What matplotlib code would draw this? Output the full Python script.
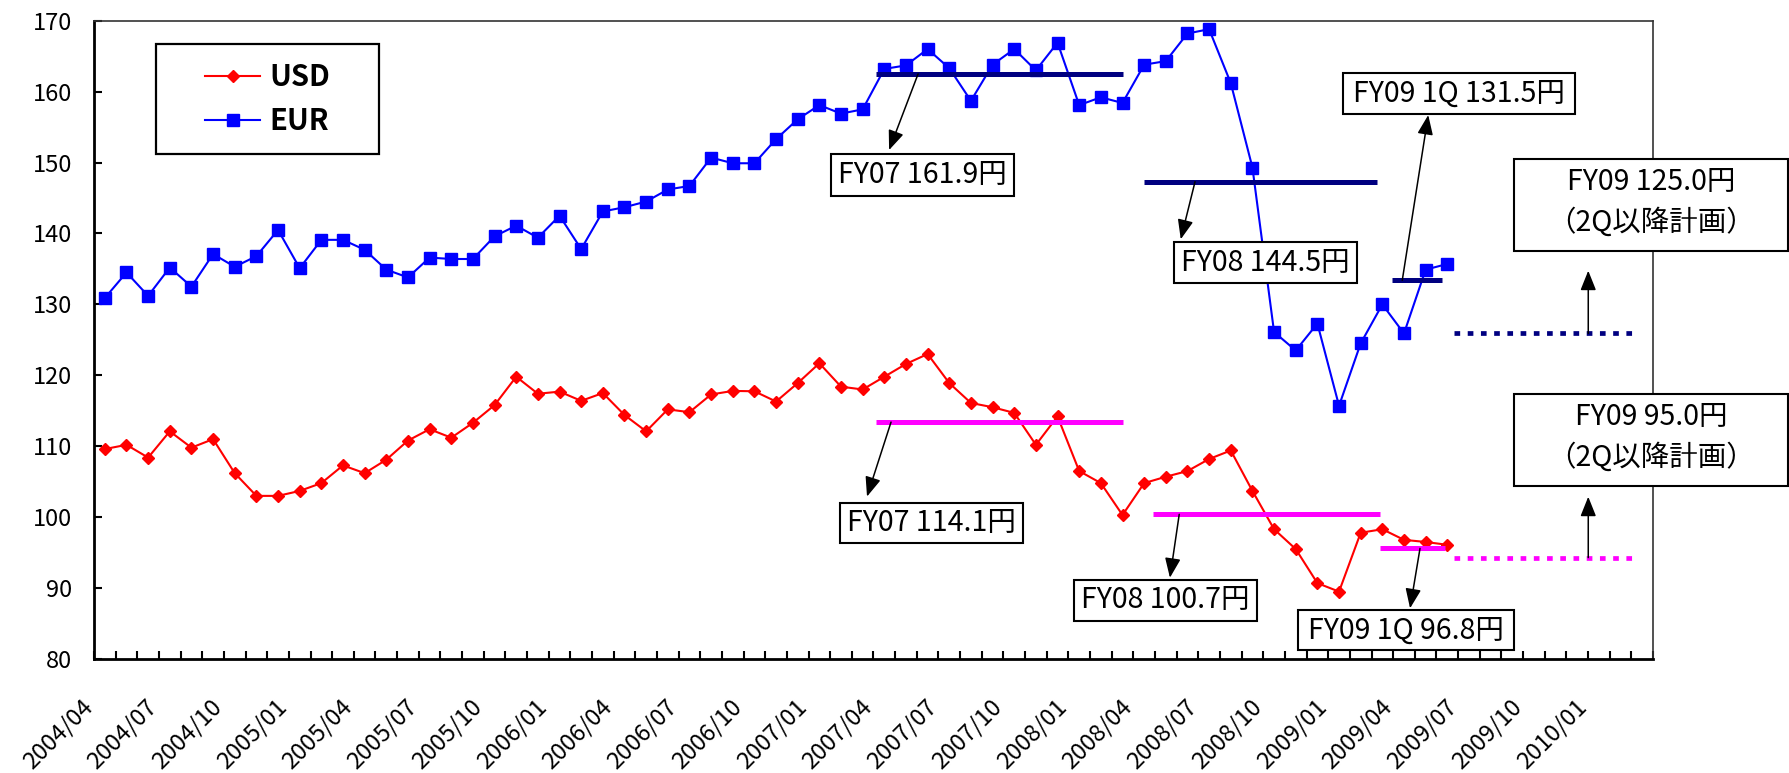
import numpy as np
import matplotlib
matplotlib.use('Agg')
import matplotlib.pyplot as plt
from matplotlib.patches import Rectangle
from matplotlib.transforms import ScaledTranslation

plt.rcParams['font.family'] = ['Noto Sans CJK JP', 'DejaVu Sans']

# monthly rates, 2004/04 - 2009/06
usd = [109.6, 110.2, 108.4, 112.1, 109.8, 111.0, 106.2, 103.0, 103.0, 103.7,
       104.8, 107.3, 106.2, 108.1, 110.8, 112.4, 111.2, 113.3, 115.8, 119.8,
       117.4, 117.7, 116.4, 117.5, 114.4, 112.1, 115.2, 114.8, 117.3, 117.8,
       117.75, 116.3, 118.9, 121.7, 118.4, 118.0, 119.8, 121.6, 123.0, 118.9,
       116.1, 115.5, 114.7, 110.2, 114.2, 106.5, 104.8, 100.3, 104.8, 105.7,
       106.5, 108.2, 109.4, 103.7, 98.3, 95.5, 90.7, 89.5, 97.8, 98.3,
       96.8, 96.5, 96.1]
eur = [130.9, 134.5, 131.2, 135.2, 132.5, 137.1, 135.3, 136.8, 140.5, 135.1,
       139.1, 139.1, 137.7, 134.9, 133.8, 136.6, 136.4, 136.4, 139.6, 141.1,
       139.4, 142.5, 137.8, 143.1, 143.7, 144.5, 146.2, 146.7, 150.7, 149.9,
       149.9, 153.3, 156.1, 158.1, 156.9, 157.5, 163.2, 163.7, 166.0, 163.3,
       158.7, 163.8, 166.0, 163.0, 166.9, 158.1, 159.2, 158.4, 163.8, 164.3,
       168.2, 168.8, 161.2, 149.3, 126.1, 123.5, 127.3, 115.7, 124.5, 130.0,
       125.9, 134.9, 135.7]

# period averages (FY07, FY08, FY09 1Q) and FY09 2Q- plan
eur_avg = [162.5, 147.3, 133.4]
usd_avg = [113.4, 100.4, 95.6]
eur_plan = 125.9
usd_plan = 94.3
eur_avg_labels = ['FY07 161.9円', 'FY08 144.5円', 'FY09 1Q 131.5円']
usd_avg_labels = ['FY07 114.1円', 'FY08 100.7円', 'FY09 1Q 96.8円']
eur_plan_label = ['FY09 125.0円', '（2Q以降計画）']
usd_plan_label = ['FY09 95.0円', '（2Q以降計画）']

# axis runs 2004/04 - 2010/03
months = []
yy, mm = 2004, 4
for k in range(72):
    months.append('%d/%02d' % (yy, mm))
    mm += 1
    if mm > 12:
        mm = 1
        yy += 1
tick_idx = list(range(0, 70, 3))

fig = plt.figure(figsize=(17.89, 7.73), dpi=100)
ax = fig.add_axes([94 / 1789, 1 - 659 / 773, 1559 / 1789, 638.3 / 773])

x = np.arange(len(usd))
l_usd, = ax.plot(x, usd, color='#FF0000', lw=1.5, marker='D', ms=6.5, zorder=3)
l_eur, = ax.plot(x, eur, color='#0000FF', lw=1.5, marker='s', ms=8.3, zorder=3)

# average bars
eur_span = [(35.6, 47.0), (48.0, 58.75), (59.45, 61.75)]
usd_span = [(35.6, 47.0), (48.4, 58.9), (58.9, 61.9)]
for (a, b), v in zip(eur_span, eur_avg):
    ax.plot([a, b], [v, v], color='#000080', lw=3.6, solid_capstyle='butt', zorder=4)
for (a, b), v in zip(usd_span, usd_avg):
    ax.plot([a, b], [v, v], color='#FF00FF', lw=3.6, solid_capstyle='butt', zorder=4)
ax.plot([62.3, 70.6], [eur_plan, eur_plan], color='#000080', lw=3.4,
        ls=(0, (1.2, 1.6)), dash_capstyle='butt', zorder=4)
ax.plot([62.3, 70.6], [usd_plan, usd_plan], color='#FF00FF', lw=3.4,
        ls=(0, (1.2, 1.6)), dash_capstyle='butt', zorder=4)


def box(x0, x1, ytop, ybot, lines):
    ax.add_patch(Rectangle((x0, ybot), x1 - x0, ytop - ybot, fc='white', ec='black',
                           lw=1.5, zorder=6, clip_on=False))
    cx = (x0 + x1) / 2
    if len(lines) == 1:
        ax.text(cx, (ytop + ybot) / 2, lines[0], ha='center', va='center',
                fontsize=20.5, zorder=7)
    else:
        h = ytop - ybot
        ax.text(cx, ytop - h * 0.245, lines[0], ha='center', va='center', fontsize=20.5, zorder=7)
        ax.text(cx, ytop - h * 0.69, lines[1], ha='center', va='center', fontsize=20.5, zorder=7)


def arrow(tail, tip):
    ax.annotate('', xy=tip, xytext=tail, annotation_clip=False, zorder=7,
                arrowprops=dict(arrowstyle='-|>,head_length=0.6,head_width=0.24',
                                mutation_scale=20, lw=1.1, color='black',
                                shrinkA=0, shrinkB=0))


box(33.54, 42.0, 151.2, 145.3, [eur_avg_labels[0]])
box(33.93, 42.4, 102.0, 96.3, [usd_avg_labels[0]])
box(49.38, 57.84, 138.75, 132.97, [eur_avg_labels[1]])
box(44.76, 53.22, 91.14, 85.4, [usd_avg_labels[1]])
box(57.19, 67.9, 162.67, 156.84, [eur_avg_labels[2]])
box(55.12, 65.09, 86.86, 81.22, [usd_avg_labels[2]])
box(65.08, 77.73, 150.46, 137.57, eur_plan_label)
box(65.08, 77.73, 117.36, 104.39, usd_plan_label)

arrow((37.56, eur_avg[0]), (36.22, 151.76))
arrow((36.31, usd_avg[0]), (35.2, 102.9))
arrow((50.35, eur_avg[1]), (49.69, 139.18))
arrow((49.62, usd_avg[1]), (49.19, 91.46))
arrow((59.92, eur_avg[2]), (61.12, 156.7))
arrow((60.74, usd_avg[2]), (60.28, 87.15))
arrow((68.51, eur_plan), (68.51, 134.75))
arrow((68.51, usd_plan), (68.51, 102.88))

# legend inside a drawn frame
lx0, lx1, ly0, ly1 = 2.354, 12.66, 151.16, 166.71
ax.add_patch(Rectangle((lx0, ly0), lx1 - lx0, ly1 - ly0, fc='white', ec='black',
                       lw=1.6, zorder=5))
leg = ax.legend([l_usd, l_eur], ['USD', 'EUR'], loc='center',
                bbox_to_anchor=(lx0, ly0, lx1 - lx0, ly1 - ly0),
                bbox_transform=ax.transData, frameon=False,
                prop={'weight': 'bold', 'size': 21}, handlelength=1.9,
                handletextpad=0.3, labelspacing=0.5, borderpad=0)
leg.set_zorder(6)

ax.set_ylim(80, 170)
ax.set_yticks(range(80, 171, 10))
ax.tick_params(axis='y', direction='in', length=5.8, width=1.5, pad=16, labelsize=17)
ax.set_xlim(-0.5, 71.5)
ax.set_xticks(tick_idx)
ax.set_xticklabels([months[k] for k in tick_idx], rotation=45, ha='right', va='top')
ax.tick_params(axis='x', which='major', length=0, pad=26, labelsize=17)
ax.set_xticks(np.arange(-0.5, 72, 1), minor=True)
ax.tick_params(axis='x', which='minor', direction='in', length=5.8, width=1.5)
for lab in ax.get_xticklabels():
    lab.set_transform(lab.get_transform() + ScaledTranslation(-8 / 100, 0, fig.dpi_scale_trans))

for s in ['left', 'bottom']:
    ax.spines[s].set_linewidth(2)
for s in ['top', 'right']:
    ax.spines[s].set_linewidth(1.2)
    ax.spines[s].set_color('#333333')

fig.savefig('out.png', dpi=100)
